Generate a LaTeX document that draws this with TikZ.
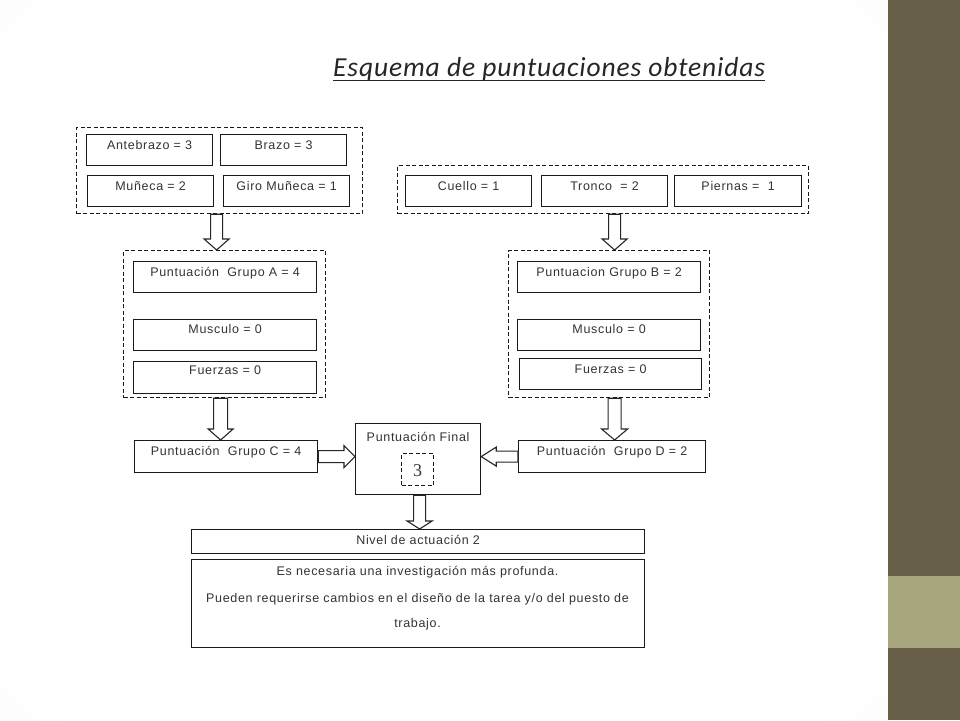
\documentclass[tikz,border=0pt]{standalone}
\usepackage{fontspec}
\setmainfont{Liberation Sans}
\newfontfamily\boxf[LetterSpace=5.5]{Liberation Sans}
\newfontfamily\titlef[LetterSpace=3.2]{Carlito}
\newfontfamily\numf{Liberation Serif}
\usetikzlibrary{calc}
\definecolor{txtc}{HTML}{333333}
\definecolor{bandD}{HTML}{675F48}
\definecolor{bandL}{HTML}{A8A67D}
\definecolor{bggray}{HTML}{E2E2E6}
\pgfdeclareradialshading{bgsh}{\pgfpoint{0bp}{0bp}}{color(0bp)=(white); color(32bp)=(white); color(71bp)=(bggray)}
% vertical block arrow: top point, node for bottom, shaft half, head half, head length
\newcommand\vblk[5]{%
  \draw[blk] let \p1=(#1), \p2=(#2) in
    (\x1-#3,\y1) -- (\x1+#3,\y1) -- (\x1+#3,\y2+#5) -- (\x1+#4,\y2+#5) -- (\x1,\y2)
    -- (\x1-#4,\y2+#5) -- (\x1-#3,\y2+#5) -- cycle;}
% horizontal block arrow pointing right
\newcommand\hblkR[5]{%
  \draw[blk] let \p1=(#1), \p2=(#2) in
    (\x1,\y1+#3) -- (\x2-#5,\y1+#3) -- (\x2-#5,\y1+#4) -- (\x2,\y1) -- (\x2-#5,\y1-#4)
    -- (\x2-#5,\y1-#3) -- (\x1,\y1-#3) -- cycle;}
% horizontal block arrow pointing left
\newcommand\hblkL[5]{%
  \draw[blk] let \p1=(#1), \p2=(#2) in
    (\x1,\y1+#3) -- (\x2+#5,\y1+#3) -- (\x2+#5,\y1+#4) -- (\x2,\y1) -- (\x2+#5,\y1-#4)
    -- (\x2+#5,\y1-#3) -- (\x1,\y1-#3) -- cycle;}
\begin{document}
\begin{tikzpicture}[x=1pt,y=-1pt,
  bx/.style={draw=black!90, line width=1.2pt, fill=white, inner sep=0pt, text=txtc,
    font=\boxf\fontsize{12.5}{14}\selectfont, anchor=north west},
  dsh/.style={draw=black!90, line width=1.2pt, dash pattern=on 4pt off 2.5pt,
    inner sep=0pt, anchor=north west},
  blk/.style={draw=black!85, line width=1.1pt, fill=white, line join=miter},
  txt/.style={text=txtc, font=\boxf\fontsize{12.5}{14}\selectfont, inner sep=0pt, anchor=base}]
\useasboundingbox (0,0) rectangle (960,720);
% background
\fill[white] (0,0) rectangle (960,720);
\shade[shading=bgsh] (0,0) rectangle (888,720);
\fill[white] (70,115) rectangle (815,657);
\fill[bandD] (888,0) rectangle (960,720);
\fill[bandL] (888,576) rectangle (960,648);
% title
\node[anchor=base west, inner sep=0pt, text=black!85,
  font=\titlef\itshape\fontsize{27.5}{30}\selectfont] (title) at (333,76) {Esquema de puntuaciones obtenidas};
\draw[black!85, line width=1.3pt] ([yshift=-4.5pt]title.base west) -- ([yshift=-4.5pt]title.base east);
% top left group
\node[dsh, minimum width=286pt, minimum height=86pt] (dA) at (76,127) {};
\node[bx, minimum width=126pt, text height=15pt, text depth=16pt] (ante) at (86,134) {Antebrazo = 3};
\node[bx, minimum width=126pt, text height=15pt, text depth=16pt] (brazo) at (220,134) {Brazo = 3};
\node[bx, minimum width=126pt, text height=15pt, text depth=16pt] (muneca) at (87,175) {Muñeca = 2};
\node[bx, minimum width=126pt, text height=15pt, text depth=16pt] (giro) at (223,175) {Giro Muñeca = 1};
% top right group
\node[dsh, minimum width=411pt, minimum height=48pt] (dB) at (397,165) {};
\node[bx, minimum width=126pt, text height=15pt, text depth=16pt] (cuello) at (405,175) {Cuello = 1};
\node[bx, minimum width=126pt, text height=15pt, text depth=16pt] (tronco) at (541,175) {Tronco \ = 2};
\node[bx, minimum width=127pt, text height=15pt, text depth=16pt] (piernas) at (674,175) {Piernas = \ 1};
% group A
\node[dsh, minimum width=202pt, minimum height=147pt] (gA) at (123,250) {};
\node[bx, minimum width=183pt, text height=15pt, text depth=16pt] (pA) at (133,261) {Puntuación \ Grupo A = 4};
\node[bx, minimum width=183pt, text height=14pt, text depth=17pt] (mA) at (133,319) {Musculo = 0};
\node[bx, minimum width=183pt, text height=13pt, text depth=19pt] (fA) at (133,361) {Fuerzas = 0};
% group B
\node[dsh, minimum width=201pt, minimum height=147pt] (gB) at (508,250) {};
\node[bx, minimum width=183pt, text height=15pt, text depth=16pt] (pB) at (517,261) {Puntuacion Grupo B = 2};
\node[bx, minimum width=183pt, text height=14pt, text depth=17pt] (mB) at (517,319) {Musculo = 0};
\node[bx, minimum width=182pt, text height=15pt, text depth=16pt] (fB) at (519,358) {Fuerzas = 0};
% middle row
\node[bx, minimum width=183pt, text height=15pt, text depth=17pt] (C) at (134,440) {Puntuación \ Grupo C = 4};
\node[bx, minimum width=187pt, text height=15pt, text depth=17pt] (D) at (518,440) {Puntuación \ Grupo D = 2};
\node[bx, minimum width=125pt, text height=18pt, text depth=53pt] (F) at (355,423) {Puntuación Final};
\node[dsh, minimum width=32pt, text height=23pt, text depth=9pt, text=txtc,
  font=\numf\fontsize{18}{20}\selectfont] (three) at (401,453) {3};
% bottom
\node[bx, minimum width=453pt, text height=15pt, text depth=9pt] (nivel) at (191,529) {Nivel de actuación 2};
\node[bx, minimum width=453pt, minimum height=88pt] (rec) at (191,559) {};
\node[txt] (l1) at (417.5,575) {Es necesaria una investigación más profunda.};
\node[txt] (l2) at (417.5,602) {Pueden requerirse cambios en el diseño de la tarea y/o del puesto de};
\node[txt] (l3) at (417.5,627) {trabajo.};
% block arrows
\vblk{[xshift=-3pt]dA.south}{gA.north}{6pt}{12.5pt}{11pt}
\vblk{[xshift=11.5pt]dB.south}{gB.north}{6pt}{12.5pt}{11pt}
\vblk{[xshift=-4pt]gA.south}{C.north}{7pt}{12.5pt}{11pt}
\vblk{[xshift=5.5pt]gB.south}{D.north}{6.5pt}{13pt}{11pt}
\vblk{[xshift=1.5pt]F.south}{nivel.north}{6pt}{12.5pt}{8pt}
\hblkR{C.east}{F.west}{6pt}{11pt}{11pt}
\hblkL{D.west}{F.east}{5.5pt}{9.5pt}{15pt}
\end{tikzpicture}
\end{document}
